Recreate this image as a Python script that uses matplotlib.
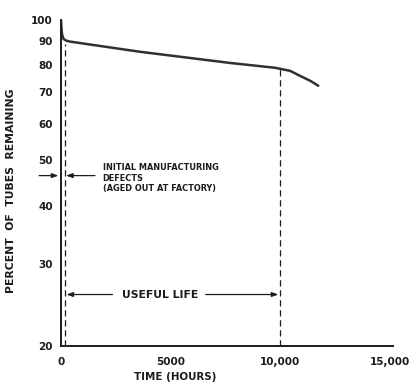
import matplotlib
matplotlib.use("Agg")
import matplotlib.pyplot as plt

plt.rc('font', family='DejaVu Sans', weight='bold', size=7.5)

# survival curve: hours in service vs percent of tubes still working
hours = [0, 20, 50, 120, 250, 410, 3600, 7720, 9770, 10460, 10910, 11370, 11740]
percent = [100, 96, 93, 91, 90.3, 89.9, 85.5, 80.9, 79.0, 77.8, 75.9, 74.1, 72.3]

x_ticks = [0, 5000, 10000, 15000]
x_labels = ['0', '5000', '10,000', '15,000']
y_ticks = [20, 30, 40, 50, 60, 70, 80, 90, 100]

factory_end = 200      # end of initial defect period
life_end = 10000       # end of useful life
useful_pct = 25.8      # height of the useful life arrows
defect_pct = 46.4      # height of the defects arrows

ink = '#1c1c1a'
curve_col = '#2f3327'

fig = plt.figure(figsize=(4.15, 3.85), dpi=100)
ax = fig.add_axes([0.147, 0.101, 0.80, 0.847])

ax.plot(hours, percent, color=curve_col, lw=1.8, solid_capstyle='round')

ax.set_yscale('log')
ax.set_ylim(20, 100)
ax.set_xlim(0, 15150)
ax.set_yticks(y_ticks)
ax.set_yticklabels([str(v) for v in y_ticks])
ax.minorticks_off()
ax.set_xticks(x_ticks)
ax.set_xticklabels(x_labels)
ax.tick_params(length=0, pad=6, colors=ink)
ax.tick_params(axis='x', pad=8)

for side in ['top', 'right']:
    ax.spines[side].set_visible(False)
for side in ['left', 'bottom']:
    ax.spines[side].set_color(ink)
    ax.spines[side].set_linewidth(1.4)

# dashed boundaries down from the curve
ax.plot([factory_end, factory_end], [20, 89.0], color=ink, lw=0.9, ls=(0, (5, 3)))
ax.plot([life_end, life_end], [20, 78.8], color=ink, lw=0.9, ls=(0, (5, 3)))

arrow = dict(arrowstyle='-|>,head_length=0.5,head_width=0.18', color=ink, lw=0.9,
             shrinkA=0, shrinkB=0)

# initial defects: arrows pointing in at the narrow band
ax.annotate('', xy=(-120, defect_pct), xytext=(-1000, defect_pct),
            arrowprops=arrow, annotation_clip=False)
ax.annotate('', xy=(factory_end + 30, defect_pct), xytext=(1550, defect_pct),
            arrowprops=arrow, annotation_clip=False)
ax.text(1900, 45.8, 'INITIAL MANUFACTURING\nDEFECTS\n(AGED OUT AT FACTORY)',
        fontsize=5.9, color=ink, va='center', ha='left', linespacing=1.2)

# useful life span
ax.annotate('', xy=(factory_end + 50, useful_pct), xytext=(2350, useful_pct),
            arrowprops=arrow)
ax.annotate('', xy=(life_end - 80, useful_pct), xytext=(6600, useful_pct),
            arrowprops=arrow)
ax.text(4520, useful_pct, 'USEFUL LIFE', fontsize=7.8, color=ink,
        va='center', ha='center')

ax.set_xlabel('TIME (HOURS)', color=ink, fontsize=7.4, fontweight='bold')
ax.xaxis.set_label_coords(0.345, -0.08)
ax.set_ylabel('PERCENT  OF  TUBES  REMAINING', color=ink, fontsize=7.8,
              fontweight='bold')
ax.yaxis.set_label_coords(-0.135, 0.475)

fig.savefig('out.png', dpi=100)
